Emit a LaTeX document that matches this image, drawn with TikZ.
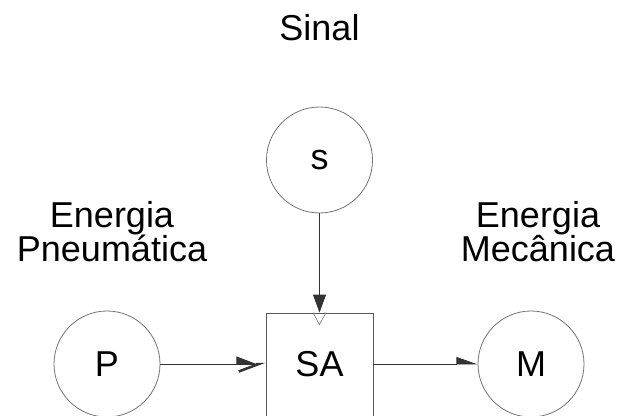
\documentclass[tikz,border=0pt]{standalone}
\usepackage{fontspec}
\setmainfont{Liberation Sans}
\usetikzlibrary{arrows.meta}

\begin{document}
\begin{tikzpicture}[
  x=1pt, y=-1pt,
  every node/.style={inner sep=0pt, font=\fontsize{36}{34}\selectfont},
  port/.style={draw=black!55, line width=0.8pt, circle, minimum size=106pt},
  unit/.style={draw=black!65, line width=0.8pt, rectangle, minimum width=107pt, minimum height=120pt},
  caption/.style={align=center},
  flow/.style={draw=black!80, line width=0.8pt}
]
\useasboundingbox (0,0) rectangle (618,415);
\clip (0,0) rectangle (618,415);

% signal and energy sources
\node[port] (s) at (319.5,160) {s};
\node[port] (P) at (107,364) {P};
\node[port] (M) at (531,364) {M};
\node[unit] (SA) at (319.5,373) {};
\node (satext) at (319.5,364) {SA};

% texts
\node[anchor=base] (sinal) at (319.5,40) {Sinal};
\node[caption] (pneu) at (112,232) {Energia\\Pneumática};
\node[caption] (mec) at (538,232) {Energia\\Mecânica};

% connections
\draw[flow, -{Triangle[length=18pt,width=13pt]}] (s) -- (SA.north);
\draw[draw=black!55, line width=0.6pt] ([xshift=-6.5pt]SA.north) -- ++(6.5,12) -- ++(6.5,-12);
\draw[flow, -{Triangle[harpoon,length=20pt,width=15pt,sep=-20pt]Straight Barb[harpoon,swap,length=20pt,width=15pt,line width=2.5pt]}] (P) -- (P -| SA.west);
\draw[flow, -{Triangle[harpoon,length=20pt,width=14pt]}] (SA.east |- M) -- (M);
\end{tikzpicture}
\end{document}
